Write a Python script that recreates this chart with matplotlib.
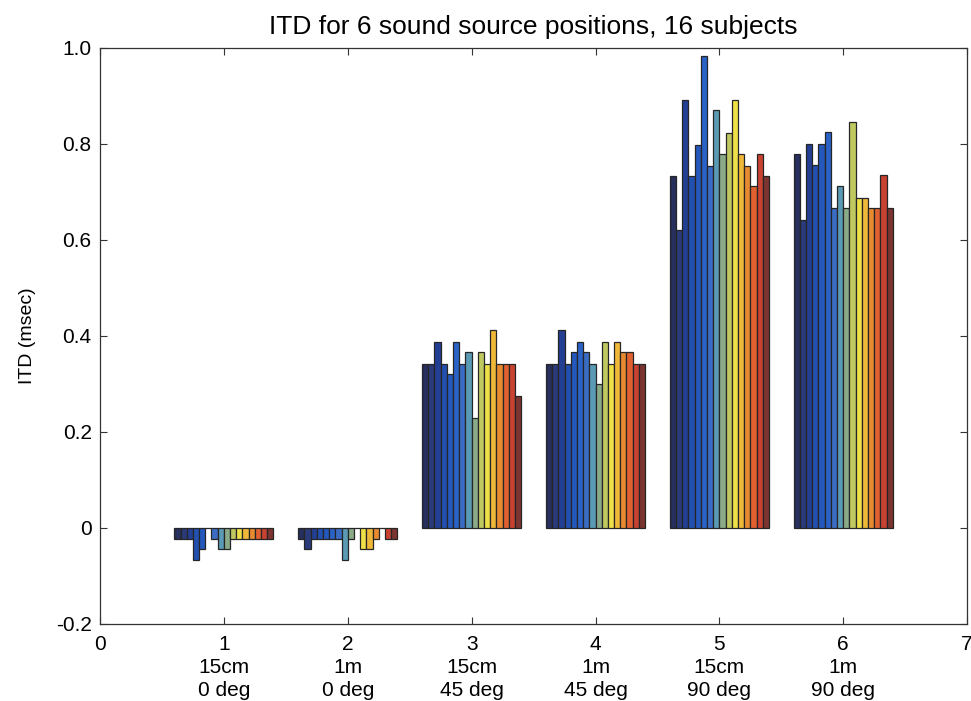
import matplotlib
matplotlib.use("Agg")
import matplotlib.pyplot as plt
import numpy as np

plt.rcParams['font.family'] = ['Liberation Sans', 'DejaVu Sans']

# ITD (msec) per subject, one list per sound source position
pos_15cm_0deg = [-0.023, -0.023, -0.023, -0.067, -0.044, 0.0, -0.023, -0.044,
                 -0.044, -0.023, -0.023, -0.023, -0.023, -0.023, -0.023, -0.023]
pos_1m_0deg = [-0.023, -0.044, -0.023, -0.023, -0.023, -0.023, -0.023, -0.067,
               -0.023, 0.0, -0.044, -0.044, -0.023, 0.0, -0.023, -0.023]
pos_15cm_45deg = [0.341, 0.341, 0.387, 0.341, 0.320, 0.387, 0.341, 0.367,
                  0.229, 0.367, 0.341, 0.412, 0.341, 0.341, 0.341, 0.275]
pos_1m_45deg = [0.341, 0.341, 0.412, 0.341, 0.367, 0.387, 0.367, 0.341,
                0.299, 0.387, 0.341, 0.387, 0.367, 0.367, 0.341, 0.341]
pos_15cm_90deg = [0.732, 0.620, 0.890, 0.732, 0.798, 0.982, 0.753, 0.870,
                  0.778, 0.823, 0.890, 0.778, 0.753, 0.712, 0.778, 0.732]
pos_1m_90deg = [0.779, 0.641, 0.800, 0.755, 0.800, 0.824, 0.667, 0.712,
                0.667, 0.845, 0.687, 0.687, 0.667, 0.667, 0.734, 0.667]

positions = [1, 2, 3, 4, 5, 6]
position_labels = ["1\n15cm\n0 deg", "2\n1m\n0 deg", "3\n15cm\n45 deg",
                   "4\n1m\n45 deg", "5\n15cm\n90 deg", "6\n1m\n90 deg"]

itd = np.array([pos_15cm_0deg, pos_1m_0deg, pos_15cm_45deg,
                pos_1m_45deg, pos_15cm_90deg, pos_1m_90deg])
n_subjects = itd.shape[1]

# one colour per subject, jet-like but faded
subject_colors = ["#272f5c", "#2a3a7a", "#233f94", "#2250b0", "#2458bc",
                  "#2a62c8", "#3a6cc4", "#5a9ab4", "#8aaa88", "#c0c860",
                  "#f0e048", "#f0b838", "#e88a30", "#e06030", "#c84232",
                  "#7c3430"]

fig = plt.figure(figsize=(9.71, 7.01), dpi=100)
ax = fig.add_axes([0.103, 0.110, 0.893, 0.822])

group_width = 0.8
bar_w = group_width / n_subjects
x = np.array(positions, dtype=float)
for s in range(n_subjects):
    offs = -group_width / 2 + bar_w * (s + 0.5)
    ax.bar(x + offs, itd[:, s], width=bar_w, color=subject_colors[s],
           edgecolor='#262626', linewidth=0.9)

ax.set_xlim(0, 7)
ax.set_ylim(-0.2, 1.0)
ax.set_xticks(range(8))
ax.set_xticklabels(["0"] + position_labels + ["7"], fontsize=15, linespacing=1.27,
                   va='top')
ax.set_yticks([-0.2, 0, 0.2, 0.4, 0.6, 0.8, 1.0])
ax.set_yticklabels(["-0.2", "0", "0.2", "0.4", "0.6", "0.8", "1.0"], fontsize=15)
ax.tick_params(axis='both', direction='in', top=True, right=True, length=5,
               width=0.8, color='#333333')
ax.tick_params(axis='x', pad=8)
ax.tick_params(axis='y', pad=6)
for sp in ax.spines.values():
    sp.set_linewidth(0.9)
    sp.set_color('#333333')

ax.set_ylabel("ITD (msec)", fontsize=14, labelpad=14)
ax.set_title("ITD for 6 sound source positions, 16 subjects", fontsize=19, pad=10)

fig.savefig("out.png", dpi=100)
